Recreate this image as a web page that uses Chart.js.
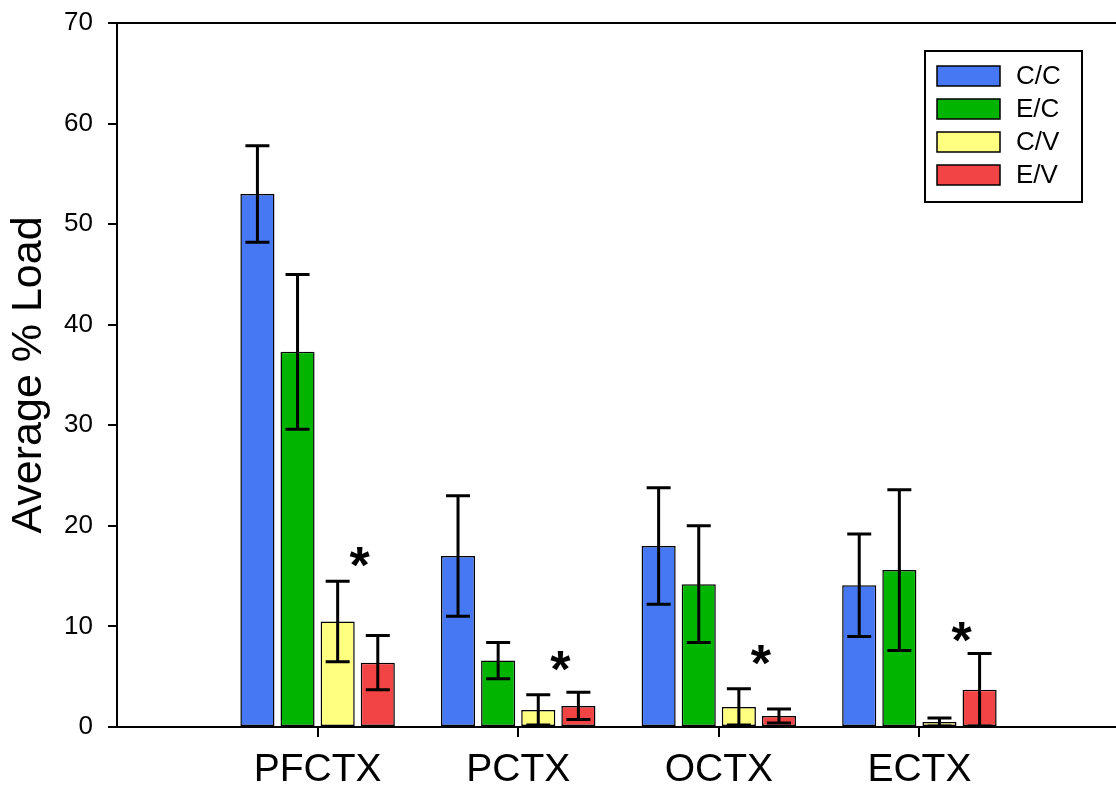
<!DOCTYPE html>
<html>
<head>
<meta charset="utf-8">
<script src="https://cdn.jsdelivr.net/npm/chart.js@4/dist/chart.umd.min.js"></script>
<style>
  html, body { margin: 0; padding: 0; background: #fff; }
  #wrap { width: 1116px; height: 797px; }
</style>
</head>
<body>
<div id="wrap"><canvas id="c" width="1116" height="797"></canvas></div>
<script>
// ---- data ----
const categories = ['PFCTX', 'PCTX', 'OCTX', 'ECTX'];
const seriesLabels = ['C/C', 'E/C', 'C/V', 'E/V'];
const ccValues = [53.0, 17.0, 18.0, 14.1];
const ccErrors = [4.8, 6.0, 5.8, 5.1];
const ecValues = [37.3, 6.6, 14.2, 15.6];
const ecErrors = [7.7, 1.8, 5.8, 8.0];
const cvValues = [10.5, 1.7, 2.0, 0.5];
const cvErrors = [4.0, 1.5, 1.8, 0.4];
const evValues = [6.4, 2.1, 1.1, 3.7];
const evErrors = [2.7, 1.35, 0.7, 3.6];
const asteriskY = [17.3, 6.9, 7.5, 9.8];
const yTicks = [0, 10, 20, 30, 40, 50, 60, 70];

const colors = ['#4678f4', '#00b400', '#ffff80', '#f24444'];
const allValues = [ccValues, ecValues, cvValues, evValues];
const allErrors = [ccErrors, ecErrors, cvErrors, evErrors];

const datasets = seriesLabels.map((lab, s) => ({
  label: lab,
  data: categories.map((c, i) => ({ x: i + 1, y: allValues[s][i] })),
  errors: allErrors[s],
  backgroundColor: colors[s],
  borderColor: '#000',
  borderWidth: 1.5,
  borderSkipped: false,
  categoryPercentage: 0.8,
  barPercentage: 0.85
}));

const FONT = 'Arial, "Liberation Sans", sans-serif';

const errorBarPlugin = {
  id: 'errorBars',
  afterDatasetsDraw(chart) {
    const ctx = chart.ctx;
    const ys = chart.scales.y;
    ctx.save();
    ctx.strokeStyle = '#000';
    ctx.lineWidth = 3;
    chart.data.datasets.forEach((ds, di) => {
      const meta = chart.getDatasetMeta(di);
      meta.data.forEach((el, i) => {
        const v = ds.data[i].y, e = ds.errors[i];
        const yT = ys.getPixelForValue(v + e);
        const yB = ys.getPixelForValue(Math.max(0, v - e));
        const x = el.x, cap = 12;
        ctx.beginPath();
        ctx.moveTo(x, yT); ctx.lineTo(x, yB);
        ctx.moveTo(x - cap, yT); ctx.lineTo(x + cap, yT);
        ctx.moveTo(x - cap, yB); ctx.lineTo(x + cap, yB);
        ctx.stroke();
      });
    });
    ctx.restore();
  }
};

const decorPlugin = {
  id: 'decor',
  afterDraw(chart) {
    const ctx = chart.ctx;
    const ca = chart.chartArea;
    const xs = chart.scales.x, ys = chart.scales.y;
    ctx.save();
    // top frame line
    ctx.strokeStyle = '#000';
    ctx.lineWidth = 2;
    ctx.beginPath();
    ctx.moveTo(ca.left, ca.top);
    ctx.lineTo(ca.right, ca.top);
    ctx.stroke();
    // asterisks
    ctx.fillStyle = '#000';
    const fs = 52;
    ctx.font = 'bold ' + fs + 'px ' + FONT;
    ctx.textAlign = 'center';
    ctx.textBaseline = 'alphabetic';
    asteriskY.forEach((v, i) => {
      const x = xs.getPixelForValue(i + 1 + 0.21);
      const y = ys.getPixelForValue(v) + 0.57 * fs;
      ctx.fillText('*', x, y);
    });
    // legend
    const lx = 925, ly = 51, lw = 157, lh = 151;
    ctx.lineWidth = 2;
    ctx.strokeRect(lx, ly, lw, lh);
    ctx.font = '26px ' + FONT;
    ctx.textAlign = 'left';
    ctx.textBaseline = 'middle';
    seriesLabels.forEach((lab, s) => {
      const top = 66 + s * 33;
      ctx.fillStyle = colors[s];
      ctx.fillRect(937, top, 63, 20);
      ctx.lineWidth = 1.5;
      ctx.strokeRect(937, top, 63, 20);
      ctx.fillStyle = '#000';
      ctx.fillText(lab, 1016, top + 11);
    });
    ctx.restore();
  }
};

new Chart(document.getElementById('c'), {
  type: 'bar',
  data: { datasets },
  options: {
    responsive: false,
    animation: false,
    layout: { padding: { top: 23, right: 0, bottom: 0, left: 0 } },
    plugins: { legend: { display: false }, tooltip: { enabled: false } },
    scales: {
      x: {
        type: 'linear',
        offset: false,
        min: 0,
        max: 4.98,
        afterBuildTicks: (s) => { s.ticks = categories.map((c, i) => ({ value: i + 1 })); },
        afterFit: (s) => { s.height = 70; s.paddingLeft = 0; s.paddingRight = 0; },
        ticks: {
          callback: (v) => categories[v - 1] || '',
          font: { family: FONT, size: 39 },
          color: '#000',
          padding: 10,
          maxRotation: 0,
          autoSkip: false
        },
        grid: { offset: false, drawOnChartArea: false, drawTicks: true, tickLength: 10, color: '#000', lineWidth: 2 },
        border: { color: '#000', width: 2 }
      },
      y: {
        min: 0,
        max: 70,
        afterBuildTicks: (s) => { s.ticks = yTicks.map(v => ({ value: v })); },
        afterFit: (s) => { s.width = 117; s.paddingTop = 0; s.paddingBottom = 0; },
        ticks: {
          font: { family: FONT, size: 26 },
          color: '#000',
          padding: 15
        },
        grid: { drawOnChartArea: false, drawTicks: true, tickLength: 9, color: '#000', lineWidth: 2 },
        border: { color: '#000', width: 2 },
        title: {
          display: true,
          text: 'Average % Load',
          font: { family: FONT, size: 43 },
          color: '#000',
          padding: { top: 3, bottom: 0 }
        }
      }
    }
  },
  plugins: [errorBarPlugin, decorPlugin]
});
</script>
</body>
</html>
